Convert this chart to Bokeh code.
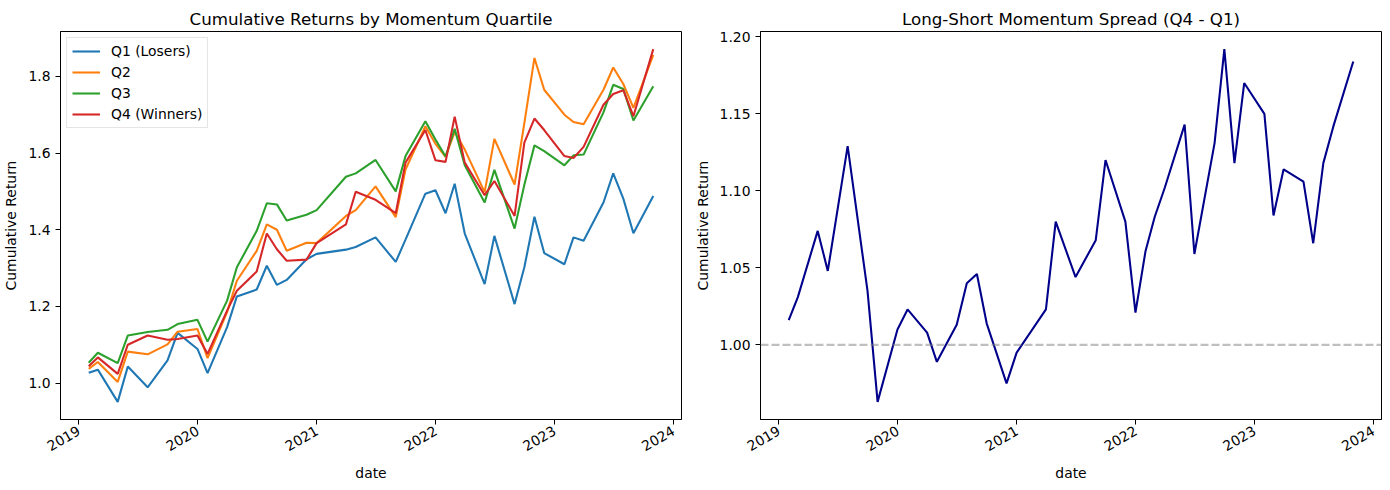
import math
from datetime import datetime

from bokeh.plotting import figure
from bokeh.layouts import row
from bokeh.models import (Range1d, FixedTicker, DatetimeTickFormatter,
                          PrintfTickFormatter, Span, ColumnDataSource)
from bokeh.embed import file_html
from bokeh.resources import INLINE

# ---------------- data ----------------
dates = [
    "2019-01-31", "2019-02-28", "2019-04-30", "2019-05-31", "2019-07-31", "2019-09-30", "2019-10-31", "2019-12-31",
    "2020-01-31", "2020-03-31", "2020-04-30", "2020-06-30", "2020-07-31", "2020-08-31", "2020-09-30", "2020-11-30", "2020-12-31",
    "2021-03-31", "2021-04-30", "2021-06-30", "2021-08-31", "2021-09-30", "2021-11-30", "2021-12-31",
    "2022-01-31", "2022-02-28", "2022-03-31", "2022-05-31", "2022-06-30", "2022-08-31", "2022-09-30", "2022-10-31", "2022-11-30",
    "2023-01-31", "2023-02-28", "2023-03-31", "2023-05-31", "2023-06-30", "2023-07-31", "2023-08-31", "2023-10-31",
]

q1_losers = [
    1.027, 1.035, 0.951, 1.043, 0.989, 1.059, 1.131, 1.089,
    1.026, 1.146, 1.226, 1.244, 1.306, 1.256, 1.269, 1.323, 1.337,
    1.348, 1.355, 1.380, 1.316, 1.374, 1.494, 1.503,
    1.443, 1.520, 1.390, 1.258, 1.384, 1.206, 1.302, 1.434, 1.339,
    1.310, 1.380, 1.371, 1.471, 1.547, 1.481, 1.391, 1.488,
]
q2 = [
    1.037, 1.055, 1.003, 1.082, 1.075, 1.101, 1.134, 1.141,
    1.065, 1.185, 1.267, 1.345, 1.414, 1.400, 1.345, 1.366, 1.365,
    1.436, 1.451, 1.513, 1.433, 1.557, 1.670, 1.624,
    1.590, 1.655, 1.609, 1.498, 1.637, 1.518, 1.678, 1.848, 1.765,
    1.700, 1.681, 1.675, 1.765, 1.823, 1.780, 1.718, 1.856,
]
q3 = [
    1.053, 1.079, 1.052, 1.124, 1.133, 1.139, 1.154, 1.165,
    1.108, 1.215, 1.302, 1.397, 1.469, 1.466, 1.424, 1.439, 1.451,
    1.538, 1.547, 1.582, 1.500, 1.592, 1.683, 1.635,
    1.591, 1.663, 1.568, 1.471, 1.556, 1.403, 1.517, 1.620, 1.605,
    1.568, 1.594, 1.596, 1.706, 1.778, 1.767, 1.685, 1.774,
]
q4_winners = [
    1.044, 1.067, 1.024, 1.100, 1.124, 1.113, 1.115, 1.124,
    1.076, 1.189, 1.241, 1.291, 1.390, 1.349, 1.319, 1.322, 1.365,
    1.414, 1.499, 1.478, 1.443, 1.575, 1.660, 1.581,
    1.577, 1.695, 1.575, 1.490, 1.527, 1.436, 1.627, 1.690, 1.660,
    1.592, 1.587, 1.616, 1.726, 1.754, 1.764, 1.696, 1.871,
]
spread = [
    1.016, 1.031, 1.074, 1.048, 1.129, 1.035, 0.963, 1.010,
    1.023, 1.008, 0.989, 1.013, 1.040, 1.046, 1.014, 0.975, 0.995,
    1.023, 1.080, 1.044, 1.068, 1.120, 1.080, 1.021,
    1.061, 1.083, 1.102, 1.143, 1.059, 1.131, 1.192, 1.118, 1.170,
    1.150, 1.084, 1.114, 1.106, 1.066, 1.118, 1.142, 1.184,
]

series_names = ["Q1 (Losers)", "Q2", "Q3", "Q4 (Winners)"]
series_colors = ["#1f77b4", "#ff7f0e", "#2ca02c", "#d62728"]
year_ticks = [2019, 2020, 2021, 2022, 2023, 2024]
left_yticks = [1.0, 1.2, 1.4, 1.6, 1.8]
right_yticks = [1.00, 1.05, 1.10, 1.15, 1.20]

# ---------------- helpers ----------------
FONT = "DejaVu Sans"
TICK_FS = "13.9px"
LABEL_FS = "13.9px"
TITLE_FS = "16.7px"
LW = 2.08

x_dt = [datetime.strptime(d, "%Y-%m-%d") for d in dates]
EPOCH = datetime(1970, 1, 1)


def ms(dt):
    return (dt - EPOCH).total_seconds() * 1000.0


def auto_range(vals, margin=0.05):
    lo, hi = min(vals), max(vals)
    pad = (hi - lo) * margin
    return lo - pad, hi + pad


xlo, xhi = auto_range([ms(d) for d in x_dt])
year_ms = [ms(datetime(y, 1, 1)) for y in year_ticks]


def style(p, yticks, yfmt):
    p.background_fill_color = "white"
    p.border_fill_color = "white"
    p.outline_line_color = "black"
    p.outline_line_width = 1
    p.outline_line_alpha = 1
    p.xgrid.visible = False
    p.ygrid.visible = False

    p.title.text_font = FONT
    p.title.text_font_size = TITLE_FS
    p.title.text_font_style = "normal"
    p.title.text_color = "black"
    p.title.align = "center"
    p.title.standoff = 5

    for ax in (p.xaxis[0], p.yaxis[0]):
        ax.axis_line_color = "black"
        ax.axis_line_width = 1
        ax.major_tick_line_color = "black"
        ax.major_tick_line_width = 1
        ax.major_tick_out = 5
        ax.major_tick_in = 0
        ax.minor_tick_out = 0
        ax.minor_tick_in = 0
        ax.major_label_text_font = FONT
        ax.major_label_text_font_size = TICK_FS
        ax.major_label_text_color = "black"
        ax.major_label_standoff = 5
        ax.axis_label_text_font = FONT
        ax.axis_label_text_font_size = LABEL_FS
        ax.axis_label_text_font_style = "normal"
        ax.axis_label_text_color = "black"
        ax.axis_label_standoff = 6

    p.xaxis[0].ticker = FixedTicker(ticks=year_ms)
    p.xaxis[0].formatter = DatetimeTickFormatter(
        years="%Y", months="%Y", days="%Y", hours="%Y", hourmin="%Y",
        minutes="%Y", minsec="%Y", seconds="%Y", milliseconds="%Y",
        microseconds="%Y")
    p.xaxis[0].major_label_orientation = math.pi / 6
    p.xaxis[0].axis_label = "date"

    p.yaxis[0].ticker = FixedTicker(ticks=yticks)
    p.yaxis[0].formatter = PrintfTickFormatter(format=yfmt)
    p.yaxis[0].axis_label = "Cumulative Return"


# ---------------- left panel ----------------
all_q = q1_losers + q2 + q3 + q4_winners
ylo, yhi = auto_range(all_q)

p1 = figure(
    x_axis_type="datetime",
    frame_width=621, frame_height=388,
    min_border_left=54, min_border_right=10,
    min_border_top=31, min_border_bottom=55,
    x_range=Range1d(xlo, xhi), y_range=Range1d(ylo, yhi),
    output_backend="svg", toolbar_location=None,
    title="Cumulative Returns by Momentum Quartile",
)
style(p1, left_yticks, "%.1f")

src = ColumnDataSource(dict(date=x_dt, q1=q1_losers, q2=q2, q3=q3, q4=q4_winners))
for col, name, color in zip(["q1", "q2", "q3", "q4"], series_names, series_colors):
    p1.line("date", col, source=src, line_color=color, line_width=LW,
            legend_label=name)

lg = p1.legend[0]
lg.location = "top_left"
lg.margin = 6
lg.padding = 5
lg.spacing = 5
lg.glyph_width = 28
lg.glyph_height = 16
lg.label_height = 16
lg.label_standoff = 11
lg.label_text_font = FONT
lg.label_text_font_size = TICK_FS
lg.label_text_color = "black"
lg.border_line_color = "#cccccc"
lg.border_line_width = 1
lg.background_fill_color = "white"
lg.background_fill_alpha = 0.8

# ---------------- right panel ----------------
slo, shi = auto_range(spread)
p2 = figure(
    x_axis_type="datetime",
    frame_width=621, frame_height=388,
    min_border_left=65, min_border_right=2,
    min_border_top=31, min_border_bottom=55,
    x_range=Range1d(xlo, xhi), y_range=Range1d(slo, shi),
    output_backend="svg", toolbar_location=None,
    title="Long-Short Momentum Spread (Q4 - Q1)",
)
style(p2, right_yticks, "%.2f")

p2.add_layout(Span(location=1.0, dimension="width", line_color="gray",
                   line_alpha=0.5, line_dash="8 3", line_width=LW))
src2 = ColumnDataSource(dict(date=x_dt, spread=spread))
p2.line("date", "spread", source=src2, line_color="#00008b", line_width=LW)

layout = row(p1, p2)
open("out.html", "w").write(file_html(layout, INLINE))
